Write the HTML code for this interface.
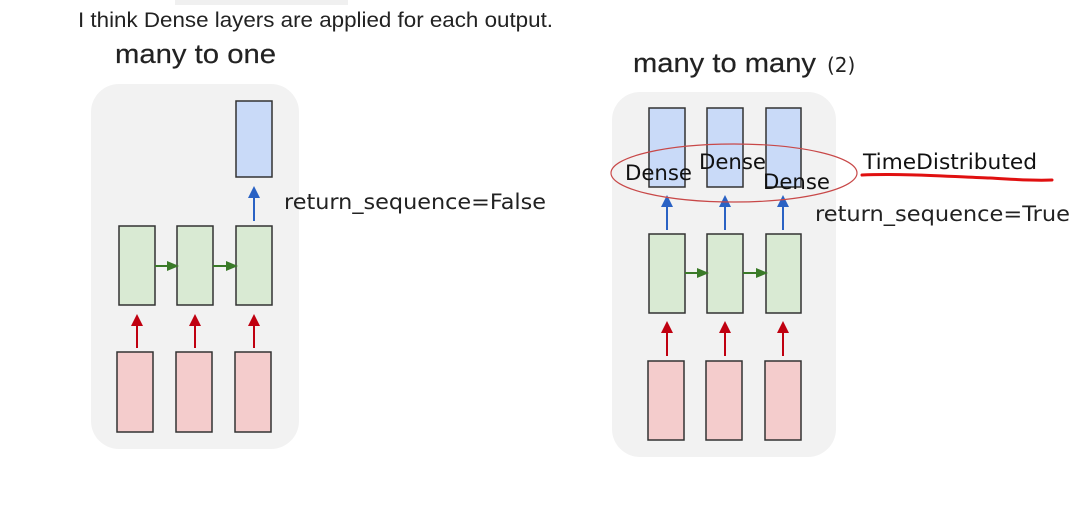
<!DOCTYPE html>
<html><head><meta charset="utf-8"><style>
html,body{margin:0;padding:0;background:#fff;width:1088px;height:506px;overflow:hidden}
svg{display:block}
</style></head><body>
<svg width="1088" height="506" xmlns="http://www.w3.org/2000/svg">
<defs>
<marker id="ab" markerWidth="12" markerHeight="12" refX="4" refY="6" orient="auto" markerUnits="userSpaceOnUse"><path d="M0,0 L12,6 L0,12 z" fill="#2a62c4"/></marker>
<marker id="ar" markerWidth="12" markerHeight="12" refX="4" refY="6" orient="auto" markerUnits="userSpaceOnUse"><path d="M0,0 L12,6 L0,12 z" fill="#c00010"/></marker>
<marker id="ag" markerWidth="12" markerHeight="10" refX="8" refY="5" orient="auto" markerUnits="userSpaceOnUse"><path d="M0,0 L12,5 L0,10 z" fill="#3a7a28"/></marker>
</defs>
<rect x="175" y="0" width="173" height="5" fill="#f0f0f0"/>
<text x="78" y="27" font-family="Liberation Sans, sans-serif" font-size="21" fill="#222" textLength="475" lengthAdjust="spacingAndGlyphs">I think Dense layers are applied for each output.</text>

<!-- left -->
<text x="115" y="63" font-family="Liberation Sans, sans-serif" font-size="27" fill="#222" stroke="#222" stroke-width="0.2" textLength="161" lengthAdjust="spacingAndGlyphs">many to one</text>
<rect x="91" y="84" width="208" height="365" rx="28" fill="#f2f2f2"/>
<rect x="236" y="101" width="36" height="76" fill="#c9daf8" stroke="#333" stroke-width="1.5"/>
<line x1="254" y1="221" x2="254" y2="194" stroke="#2a62c4" stroke-width="2" marker-end="url(#ab)"/>
<g fill="#d9ead3" stroke="#333" stroke-width="1.5">
<rect x="119" y="226" width="36" height="79"/><rect x="177" y="226" width="36" height="79"/><rect x="236" y="226" width="36" height="79"/></g>
<line x1="155" y1="266" x2="175" y2="266" stroke="#3a7a28" stroke-width="2" marker-end="url(#ag)"/>
<line x1="213" y1="266" x2="234" y2="266" stroke="#3a7a28" stroke-width="2" marker-end="url(#ag)"/>
<g stroke="#c00010" stroke-width="2" marker-end="url(#ar)">
<line x1="137" y1="348" x2="137" y2="322"/><line x1="195" y1="348" x2="195" y2="322"/><line x1="254" y1="348" x2="254" y2="322"/></g>
<g fill="#f4cccc" stroke="#333" stroke-width="1.5">
<rect x="117" y="352" width="36" height="80"/><rect x="176" y="352" width="36" height="80"/><rect x="235" y="352" width="36" height="80"/></g>
<text x="284" y="209" font-family="DejaVu Sans, sans-serif" font-size="21" fill="#222" textLength="262" lengthAdjust="spacingAndGlyphs">return_sequence=False</text>

<!-- right -->
<text x="633" y="72" font-family="Liberation Sans, sans-serif" font-size="27" fill="#222" stroke="#222" stroke-width="0.2" textLength="183" lengthAdjust="spacingAndGlyphs">many to many</text>
<text x="827" y="72" font-family="DejaVu Sans, sans-serif" font-size="20" fill="#222">(2)</text>
<rect x="612" y="92" width="224" height="365" rx="28" fill="#f2f2f2"/>
<g fill="#c9daf8" stroke="#333" stroke-width="1.5">
<rect x="649" y="108" width="36" height="79"/><rect x="707" y="108" width="36" height="79"/><rect x="766" y="108" width="35" height="79"/></g>
<g stroke="#2a62c4" stroke-width="2" marker-end="url(#ab)">
<line x1="667" y1="230" x2="667" y2="203"/><line x1="725" y1="230" x2="725" y2="203"/><line x1="783" y1="230" x2="783" y2="203"/></g>
<g fill="#d9ead3" stroke="#333" stroke-width="1.5">
<rect x="649" y="234" width="36" height="79"/><rect x="707" y="234" width="36" height="79"/><rect x="766" y="234" width="35" height="79"/></g>
<line x1="685" y1="273" x2="705" y2="273" stroke="#3a7a28" stroke-width="2" marker-end="url(#ag)"/>
<line x1="743" y1="273" x2="764" y2="273" stroke="#3a7a28" stroke-width="2" marker-end="url(#ag)"/>
<g stroke="#c00010" stroke-width="2" marker-end="url(#ar)">
<line x1="667" y1="356" x2="667" y2="329"/><line x1="725" y1="356" x2="725" y2="329"/><line x1="783" y1="356" x2="783" y2="329"/></g>
<g fill="#f4cccc" stroke="#333" stroke-width="1.5">
<rect x="648" y="361" width="36" height="79"/><rect x="706" y="361" width="36" height="79"/><rect x="765" y="361" width="36" height="79"/></g>
<ellipse cx="734" cy="173" rx="123" ry="29" fill="none" stroke="#c84848" stroke-width="1.2"/>
<g font-family="DejaVu Sans, sans-serif" font-size="21" fill="#111">
<text x="625" y="180" textLength="67" lengthAdjust="spacingAndGlyphs">Dense</text><text x="699" y="169" textLength="67" lengthAdjust="spacingAndGlyphs">Dense</text><text x="763" y="189" textLength="67" lengthAdjust="spacingAndGlyphs">Dense</text></g>
<text x="863" y="169" font-family="DejaVu Sans, sans-serif" font-size="21" fill="#111" textLength="174" lengthAdjust="spacingAndGlyphs">TimeDistributed</text>
<path d="M862,175 C900,173 960,177 990,178 C1010,179 1030,181 1052,180" fill="none" stroke="#e01010" stroke-width="3" stroke-linecap="round"/>
<text x="815" y="221" font-family="DejaVu Sans, sans-serif" font-size="21" fill="#222" textLength="255" lengthAdjust="spacingAndGlyphs">return_sequence=True</text>
</svg>
</body></html>
